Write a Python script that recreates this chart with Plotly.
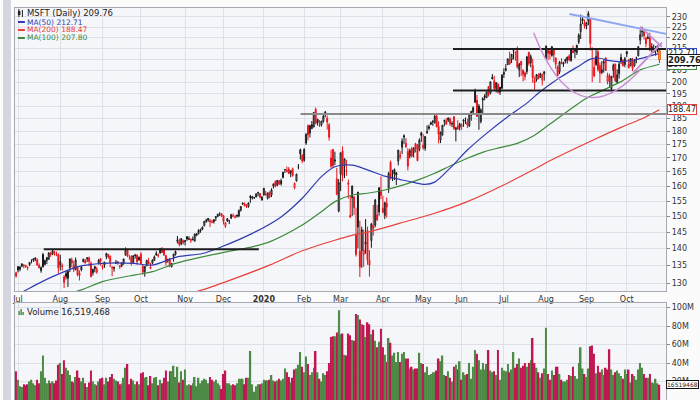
import math
import pandas as pd
import plotly.graph_objects as go

# ---------------- data ----------------
HOLIDAYS = ["2019-07-04", "2019-09-02", "2019-11-28", "2019-12-25", "2020-01-01", "2020-01-20",
            "2020-02-17", "2020-04-10", "2020-05-25", "2020-07-03", "2020-09-07"]
trade_days = [d for d in pd.bdate_range("2019-06-28", "2020-10-26")
              if d.strftime("%Y-%m-%d") not in HOLIDAYS]

month_labels = ["Jul", "Aug", "Sep", "Oct", "Nov", "Dec", "<b>2020</b>", "Feb", "Mar", "Apr",
                "May", "Jun", "Jul", "Aug", "Sep", "Oct"]

opens = [
    132.9,
    134.6, 133.9, 134.8, 134.9, 134.6, 134.3, 135.2, 136.4, 136.5, 137.2, 136.7, 135.0, 133.5, 138.2, 135.3, 136.4, 136.8, 138.6, 138.3, 139.0, 138.2, 138.2,
    135.1, 134.6, 131.7, 131.8, 131.3, 134.3, 136.6, 135.0, 133.8, 134.4, 132.8, 133.7, 136.1, 136.4, 136.9, 137.2, 135.6, 132.9, 134.6, 133.1, 135.5, 137.0,
    134.8, 135.1, 137.6, 138.2, 137.7, 134.3, 134.1, 135.6, 136.1, 134.9, 134.9, 135.7, 138.0, 139.7, 137.5, 137.6, 135.8, 138.0, 138.0, 136.6,
    138.3, 134.8, 133.2, 134.9, 136.1, 134.5, 135.6, 136.5, 138.5, 137.8, 138.6, 139.7, 139.6, 137.9, 136.4, 137.0, 134.7, 137.6, 138.2, 142.2, 142.2, 141.3, 142.4,
    142.4, 143.6, 142.8, 142.9, 142.6, 142.2, 144.0, 144.5, 145.3, 145.9, 147.0, 148.4, 149.3, 148.6, 148.1, 148.9, 149.5, 150.0, 151.0, 150.8,
    150.2, 146.8, 149.2, 148.6, 149.4, 150.1, 149.7, 150.0, 150.1, 152.0, 154.0, 154.0, 153.4, 153.2, 156.6, 156.4, 156.1, 156.3, 157.8, 157.5, 155.3,
    157.0, 157.0, 155.9, 158.0, 157.0, 160.0, 161.6, 160.3, 161.9, 160.8, 163.0, 165.8, 165.5, 166.0, 164.6, 166.1, 159.4, 161.8, 166.7, 173.0, 171.0,
    169.1, 175.5, 182.2, 179.3, 181.0, 181.7, 188.7, 184.7, 182.2, 182.4, 183.9, 187.6, 185.1, 182.5, 167.0, 173.1, 168.8, 162.5, 151.7,
    164.2, 172.5, 167.4, 165.1, 161.1, 150.3, 156.1, 156.4, 144.4, 146.6, 139.2, 139.4, 138.2, 141.3, 145.5, 136.5, 142.4, 147.1, 147.2, 150.5, 151.4, 158.2,
    152.6, 150.3, 154.3, 159.2, 168.4, 164.3, 165.8, 163.9, 168.8, 170.4, 173.9, 178.3, 175.4, 172.4, 170.7, 173.4, 171.9, 175.3, 174.9, 173.1, 179.4,
    174.8, 173.5, 179.4, 181.1, 183.3, 183.7, 183.3, 186.0, 181.9, 176.6, 178.5, 184.2, 184.1, 184.3, 184.8, 182.8, 185.7, 180.7, 182.0, 181.6,
    182.0, 183.9, 184.9, 183.5, 182.1, 186.3, 187.6, 191.6, 192.4, 190.0, 183.8, 192.4, 194.1, 193.4, 198.1, 195.3, 202.1, 200.6, 197.3, 199.2, 195.8, 197.4,
    203.4, 205.2, 207.7, 209.9, 209.7, 214.0, 213.1, 214.1, 205.4, 209.1, 205.1, 204.0, 204.6, 213.2, 208.4, 207.3, 199.7, 201.0, 203.1, 202.0, 200.8, 203.6,
    210.6, 214.0, 213.8, 211.8, 214.3, 210.6, 206.6, 204.5, 208.9, 207.9, 209.1, 209.7, 211.5, 209.5, 213.9, 214.8, 213.1, 217.9, 222.9, 228.2, 227.0,
    225.5, 227.9, 229.3, 215.1, 206.5, 207.6, 213.4, 207.2, 204.2, 208.4, 210.6, 200.1, 202.8, 197.2, 205.1, 207.9, 199.9, 203.6, 210.9, 209.4, 207.7,
    213.5, 208.0, 207.2, 208.8, 207.1, 210.5, 211.6, 218.8, 222.7, 223.0, 217.1, 220.2, 220.4, 215.8, 213.1, 213.9, 215.0, 213.9,
]
highs = [
    133.2,
    134.8, 134.7, 135.5, 135.3, 135.2, 134.6, 136.0, 136.8, 137.1, 137.3, 137.0, 135.6, 134.7, 138.7, 136.7, 137.4, 138.8, 139.0, 139.7, 139.3, 139.1, 138.6,
    138.1, 135.6, 132.2, 133.4, 133.5, 137.0, 137.3, 136.3, 137.3, 134.7, 133.6, 134.8, 137.0, 136.9, 137.4, 137.6, 136.2, 134.0, 134.9, 134.6, 136.9, 137.1,
    135.2, 136.0, 138.7, 138.4, 137.9, 134.7, 134.6, 136.6, 136.3, 135.0, 135.8, 136.9, 140.3, 139.8, 138.1, 138.0, 138.0, 138.4, 138.3, 137.6,
    138.9, 135.1, 134.8, 136.6, 137.2, 135.7, 136.7, 137.9, 139.2, 138.5, 140.1, 140.4, 139.8, 138.1, 136.9, 137.2, 135.7, 138.4, 139.4, 143.8, 143.0, 143.1, 142.7,
    142.5, 143.6, 143.7, 142.9, 143.6, 144.5, 144.6, 145.9, 146.1, 146.8, 148.4, 149.2, 149.4, 149.2, 148.9, 149.0, 150.0, 150.8, 151.1, 151.0,
    150.4, 148.1, 149.3, 148.7, 150.8, 150.9, 150.4, 150.4, 152.2, 153.2, 154.6, 154.5, 154.0, 154.4, 157.0, 156.7, 156.4, 157.5, 158.1, 157.7, 156.5,
    159.3, 158.4, 157.8, 158.2, 159.3, 160.9, 162.0, 162.0, 162.1, 162.6, 165.0, 165.9, 166.9, 166.7, 165.5, 166.5, 161.3, 164.3, 167.8, 173.4, 171.4,
    173.6, 179.3, 182.7, 182.3, 184.0, 187.5, 189.4, 184.8, 184.4, 184.0, 186.4, 188.0, 186.2, 183.2, 173.0, 173.3, 172.3, 166.4, 162.5,
    171.9, 174.3, 169.7, 169.3, 162.3, 156.7, 160.1, 156.5, 152.8, 158.0, 148.6, 146.7, 145.8, 149.1, 146.7, 139.5, 147.9, 153.7, 155.7, 153.7, 159.7, 163.4,
    156.8, 154.8, 156.2, 165.0, 169.0, 165.7, 166.2, 164.8, 172.9, 172.5, 177.3, 178.8, 177.4, 173.6, 173.4, 174.1, 173.9, 175.6, 175.1, 177.3, 179.8,
    178.9, 178.2, 182.3, 182.6, 183.8, 184.4, 186.6, 186.7, 183.9, 179.8, 182.5, 184.6, 185.1, 185.4, 185.4, 183.9, 186.0, 181.7, 184.3, 183.3,
    183.1, 184.7, 185.4, 184.9, 187.2, 187.9, 189.9, 197.2, 194.6, 190.8, 189.1, 193.6, 194.9, 196.0, 198.2, 200.3, 203.5, 202.7, 199.9, 199.4, 197.9, 203.5,
    206.0, 207.9, 210.4, 213.5, 212.4, 215.0, 213.7, 215.9, 208.4, 209.3, 205.6, 204.6, 211.6, 213.4, 212.2, 210.3, 202.4, 203.5, 203.8, 204.1, 203.7, 204.7,
    216.4, 214.3, 214.3, 216.0, 215.2, 210.9, 207.3, 209.3, 210.5, 208.9, 210.4, 211.2, 212.3, 215.0, 216.3, 215.2, 216.6, 222.1, 231.2, 230.6, 228.7,
    227.4, 232.9, 229.3, 215.4, 210.0, 214.8, 214.7, 208.6, 209.2, 209.8, 211.0, 204.1, 203.7, 202.7, 208.1, 208.1, 205.6, 209.0, 212.6, 210.1, 211.1,
    213.9, 210.2, 210.4, 210.7, 210.1, 211.2, 216.0, 223.9, 225.2, 224.2, 220.4, 222.3, 222.3, 217.4, 216.8, 216.1, 216.3, 214.2,
]
lows = [
    131.5,
    133.0, 133.3, 134.5, 134.2, 134.3, 133.6, 134.8, 135.6, 136.0, 136.2, 134.9, 134.2, 132.9, 134.4, 135.0, 135.4, 136.6, 137.5, 138.0, 137.9, 137.7, 132.7,
    133.6, 133.5, 128.6, 131.0, 128.9, 133.1, 134.5, 133.1, 133.6, 131.9, 130.7, 133.3, 135.9, 135.6, 136.0, 134.8, 131.6, 132.1, 133.0, 132.6, 135.3, 134.9,
    133.8, 134.3, 136.8, 137.0, 134.5, 131.9, 133.2, 135.4, 135.2, 134.0, 134.5, 135.2, 137.9, 137.4, 136.6, 135.0, 135.6, 137.0, 135.2, 136.4,
    135.4, 132.4, 131.8, 134.8, 135.6, 134.0, 135.3, 136.3, 137.8, 137.3, 138.5, 138.7, 137.8, 135.0, 135.8, 134.5, 134.4, 136.1, 137.9, 141.5, 140.6, 141.0, 141.2,
    140.9, 142.3, 142.6, 141.7, 142.5, 142.1, 143.7, 144.3, 144.8, 145.6, 146.8, 147.9, 148.2, 146.6, 147.8, 147.7, 148.5, 149.7, 150.1, 149.8,
    147.4, 146.3, 148.2, 147.5, 149.1, 149.8, 149.3, 149.6, 149.7, 151.5, 153.7, 153.2, 152.7, 152.8, 154.4, 155.5, 155.7, 156.3, 156.6, 155.9, 155.2,
    156.8, 156.8, 155.5, 155.9, 156.3, 159.2, 159.6, 160.0, 160.4, 160.2, 162.7, 164.6, 164.8, 164.3, 163.1, 163.3, 158.9, 161.6, 165.9, 169.4, 168.1,
    168.6, 174.8, 176.5, 177.6, 180.9, 181.5, 182.7, 182.2, 181.7, 181.8, 183.3, 185.5, 180.6, 176.4, 166.4, 166.5, 167.4, 156.9, 151.3,
    158.3, 161.7, 162.8, 163.6, 155.8, 149.4, 150.1, 150.4, 137.6, 140.0, 131.7, 134.3, 134.6, 138.4, 135.2, 131.8, 140.2, 143.9, 146.5, 148.5, 150.2, 155.6,
    151.0, 149.1, 149.6, 157.7, 162.3, 161.8, 162.1, 160.4, 167.3, 169.5, 171.4, 175.2, 173.6, 165.5, 169.8, 170.2, 170.2, 172.0, 168.8, 172.4, 176.0,
    173.0, 172.6, 179.0, 180.4, 182.4, 182.1, 183.0, 181.6, 175.4, 175.5, 178.4, 181.9, 182.4, 183.6, 182.0, 181.6, 180.5, 176.1, 180.6, 180.3,
    180.6, 181.7, 182.8, 181.2, 181.6, 184.1, 187.2, 191.2, 185.7, 180.6, 183.1, 186.7, 192.4, 193.4, 193.9, 194.8, 201.2, 196.3, 195.6, 195.2, 194.6, 197.0,
    201.8, 204.6, 207.4, 207.7, 208.4, 210.0, 209.4, 205.9, 202.2, 202.6, 200.3, 200.8, 203.4, 207.2, 206.5, 199.8, 196.8, 200.2, 201.2, 201.9, 198.6, 200.6,
    210.1, 209.6, 210.0, 211.2, 208.8, 205.8, 202.6, 203.5, 207.8, 206.6, 208.2, 208.1, 209.1, 208.9, 212.9, 210.5, 212.0, 217.0, 219.4, 226.5, 224.3,
    224.0, 226.0, 214.0, 200.0, 202.1, 207.1, 204.6, 199.7, 203.4, 204.1, 204.9, 199.0, 197.5, 196.3, 201.9, 200.0, 199.2, 201.5, 207.9, 206.7, 206.5,
    211.0, 206.0, 206.9, 204.8, 206.7, 208.3, 211.4, 216.8, 220.4, 219.1, 215.5, 219.3, 213.7, 213.2, 213.0, 211.7, 213.2, 208.3,
]
closes = [
    132.0,
    133.7, 134.6, 135.5, 135.1, 135.0, 134.5, 135.9, 136.4, 136.9, 136.9, 135.1, 134.3, 134.4, 134.6, 136.4, 137.3, 138.7, 138.2, 139.3, 139.0, 138.4, 134.3,
    136.1, 134.9, 130.2, 132.7, 133.3, 136.9, 135.7, 133.8, 136.6, 132.4, 132.1, 134.5, 136.8, 135.7, 137.2, 136.2, 131.8, 133.9, 134.1, 134.0, 136.5, 136.3,
    134.4, 136.0, 138.5, 137.5, 135.9, 134.5, 134.5, 135.9, 135.7, 134.7, 135.8, 136.9, 139.5, 137.8, 137.5, 135.8, 137.8, 137.9, 136.1, 137.4,
    135.5, 133.1, 134.7, 136.5, 135.5, 134.1, 136.6, 137.5, 138.1, 138.0, 140.0, 138.8, 138.1, 135.8, 136.8, 134.8, 135.6, 138.3, 139.1, 142.6, 141.2, 143.0, 141.8,
    142.1, 142.9, 142.9, 142.5, 142.7, 144.4, 144.5, 145.5, 145.7, 146.5, 148.4, 148.7, 148.8, 148.3, 148.2, 148.3, 149.9, 150.7, 151.0, 150.1,
    148.3, 148.0, 148.6, 148.6, 150.5, 150.1, 149.8, 150.4, 151.9, 153.2, 154.2, 153.4, 153.1, 154.4, 156.1, 156.1, 156.1, 157.4, 157.7, 156.3, 156.4,
    159.3, 157.3, 157.7, 156.3, 158.8, 160.8, 160.0, 162.0, 160.8, 161.9, 164.9, 165.8, 165.2, 164.4, 165.4, 163.7, 161.0, 164.2, 166.7, 171.5, 168.9,
    173.1, 178.8, 178.6, 182.3, 182.6, 187.4, 183.1, 183.4, 182.4, 184.0, 185.9, 186.4, 183.6, 177.7, 170.0, 167.2, 169.3, 157.3, 161.2,
    171.9, 163.7, 169.7, 165.4, 160.7, 149.8, 160.1, 152.8, 138.2, 158.0, 134.6, 145.7, 139.6, 141.9, 136.5, 135.1, 147.5, 146.1, 155.3, 148.9, 159.4, 156.9,
    151.3, 154.4, 153.0, 164.4, 162.6, 164.3, 164.3, 164.7, 172.9, 171.0, 176.2, 177.8, 174.2, 167.0, 172.7, 170.6, 173.7, 173.2, 169.0, 176.6, 178.4,
    173.7, 178.0, 179.9, 181.7, 182.8, 183.8, 185.9, 181.7, 178.9, 179.7, 182.3, 184.1, 182.8, 185.2, 182.9, 183.0, 181.1, 181.3, 180.9, 182.8,
    182.3, 184.4, 184.9, 182.4, 186.7, 187.9, 189.3, 196.3, 185.8, 187.2, 188.4, 193.1, 193.7, 195.8, 194.6, 200.1, 201.4, 197.3, 199.8, 195.8, 197.9, 203.0,
    204.2, 205.8, 210.2, 207.8, 212.3, 213.8, 213.2, 206.6, 207.9, 207.5, 203.4, 202.4, 211.1, 208.2, 211.2, 202.0, 200.8, 203.3, 201.5, 203.6, 203.4, 204.5,
    216.0, 212.8, 212.4, 215.8, 212.0, 207.8, 202.9, 208.7, 208.2, 208.4, 209.8, 211.0, 209.7, 214.6, 213.0, 213.7, 216.5, 221.2, 226.6, 228.9, 225.5,
    227.3, 231.7, 217.3, 214.3, 202.7, 211.3, 205.4, 204.0, 205.4, 208.8, 205.1, 202.9, 200.4, 202.5, 207.4, 200.6, 203.2, 207.8, 209.4, 207.3, 210.3,
    212.5, 206.2, 210.4, 205.9, 209.8, 210.6, 215.8, 221.4, 222.9, 220.9, 219.7, 219.7, 214.2, 214.7, 214.8, 214.9, 216.2, 209.76,
]
volume_m = [
    31,
    22, 15, 14, 17, 16, 17, 20, 22, 18, 16, 22, 18, 31, 48, 24, 18, 21, 18, 20, 18, 21, 38,
    40, 28, 43, 35, 32, 27, 20, 19, 25, 32, 24, 20, 24, 18, 14, 19, 32, 20, 17, 16, 20, 23,
    24, 17, 24, 20, 25, 28, 23, 21, 20, 17, 18, 24, 35, 39, 17, 23, 21, 17, 20, 17,
    29, 30, 24, 25, 16, 26, 18, 24, 25, 16, 22, 18, 24, 32, 20, 31, 31, 37, 25, 36, 19, 31, 22,
    33, 16, 17, 16, 18, 25, 15, 24, 18, 21, 23, 22, 18, 25, 22, 20, 22, 18, 16, 12,
    28, 32, 18, 18, 16, 17, 16, 18, 23, 23, 23, 17, 24, 24, 53, 17, 9, 15, 17, 17, 18,
    22, 21, 21, 22, 27, 21, 20, 21, 23, 21, 23, 34, 30, 25, 19, 24, 33, 34, 38, 52, 36,
    30, 47, 39, 27, 30, 35, 53, 30, 23, 20, 29, 27, 31, 40, 68, 69, 69, 73, 97,
    71, 72, 49, 48, 72, 70, 65, 64, 93, 92, 87, 82, 81, 68, 84, 82, 71, 76, 64, 57, 63, 77,
    57, 49, 41, 67, 62, 48, 51, 41, 52, 41, 50, 52, 45, 45, 34, 36, 33, 34, 34, 51, 40,
    39, 30, 36, 27, 28, 30, 30, 32, 45, 42, 48, 27, 26, 31, 24, 20, 36, 38, 33, 42,
    22, 30, 27, 28, 40, 23, 36, 54, 50, 43, 33, 40, 33, 39, 54, 32, 30, 31, 27, 54, 22, 35,
    32, 31, 39, 30, 33, 52, 35, 39, 45, 35, 37, 40, 36, 40, 43, 67, 40, 35, 30, 24, 29, 34,
    78, 28, 22, 32, 27, 36, 36, 28, 22, 20, 20, 22, 27, 26, 36, 26, 23, 40, 57, 34, 28,
    25, 34, 58, 59, 50, 29, 37, 30, 33, 27, 35, 33, 55, 33, 27, 30, 32, 29, 26, 23, 33,
    28, 33, 19, 28, 26, 22, 33, 40, 35, 28, 24, 24, 28, 19, 18, 23, 18, 16.519468,
]

# moving averages (trading-day position, value)
ma50_pos = [0, 6, 19, 32, 45, 61, 71, 84, 97, 107, 123, 138, 149, 159, 166, 175, 183, 192, 200, 207, 213, 218,
            226, 235, 245, 256, 266, 273, 278, 284, 294, 299, 304, 309, 315, 322, 330, 335]
ma50_val = [126.5, 128.3, 131.8, 134.6, 135.6, 135.6, 135.1, 137.5, 138.5, 140.5, 144.6, 149.8, 155.9, 163.3, 166.8,
            167.4, 165.7, 163.5, 162.3, 161.3, 160.6, 161.4, 166.3, 172.9, 179.2, 185.7, 191.2, 196.0, 199.0,
            202.4, 207.5, 210.1, 210.5, 209.4, 209.0, 209.7, 211.5, 212.71]
ma100_pos = [20, 34, 45, 62, 71, 83, 97, 114, 123, 132, 149, 159, 166, 175, 183, 192, 200, 209, 218, 226, 235,
             244, 252, 261, 270, 278, 287, 297, 306, 315, 325, 335]
ma100_val = [126.0, 128.1, 130.4, 132.3, 133.2, 135.6, 137.5, 139.5, 140.5, 142.0, 147.2, 151.5, 154.8, 157.0,
             157.6, 158.7, 160.1, 162.1, 164.5, 167.1, 169.9, 172.3, 173.8, 175.4, 178.5, 182.8, 187.8, 193.2,
             196.7, 200.2, 205.3, 207.80]
ma200_pos = [88, 97, 114, 132, 149, 166, 175, 184, 200, 218, 235, 252, 270, 278, 300, 315, 327, 335]
ma200_val = [126.8, 128.1, 131.3, 135.1, 139.3, 142.5, 144.0, 145.1, 147.8, 151.0, 154.8, 159.8, 166.0, 169.0,
             176.5, 181.5, 185.3, 188.47]

price_ticks = [130, 135, 140, 145, 150, 155, 160, 165, 170, 175, 180, 185, 190, 195, 200, 205, 210, 215,
               220, 225, 230]
price_tick_text = ["" if t == 210 else str(t) for t in price_ticks]  # 210 sits under the close tag
volume_ticks = [20e6, 40e6, 60e6, 80e6, 100e6]
volume_tick_text = ["20M", "40M", "60M", "80M", "100M"]

# user-drawn lines: (pos0, price0, pos1, price1, colour)
drawn_lines = [
    (14.4, 139.8, 126.4, 139.8, "#1e1e1e"),
    (148.1, 186.8, 338.5, 186.8, "#8a8a8a"),
    (227.5, 214.7, 338.5, 214.7, "#1e1e1e"),
    (227.5, 196.4, 338.5, 196.4, "#1e1e1e"),
    (288.1, 231.5, 338.4, 221.8, "#8ea6f0"),
    (324.9, 225.2, 336.3, 215.7, "#c98fd2"),
    (321.3, 204.0, 336.3, 217.6, "#c98fd2"),
]
cup_arc = [(269.5, 222.3), (291.2, 176.7), (324.9, 205.3)]

# ---------------- build ----------------
n = len(trade_days)
assert all(len(a) == n for a in (opens, highs, lows, closes, volume_m)), n
pos = list(range(n))
up = [closes[0] >= opens[0]] + [closes[i] >= closes[i - 1] for i in range(1, n)]
month_pos = [i for i in range(1, n) if trade_days[i].month != trade_days[i - 1].month]

BG = "#f5f6fa"
GRID = "#dde0e7"
FRAME = "#a6aab3"
BLACK = "#151515"
RED = "#e8161c"

fig = go.Figure()


def candle_trace(idx, color):
    return go.Candlestick(
        x=[pos[i] for i in idx], open=[opens[i] for i in idx], high=[highs[i] for i in idx],
        low=[lows[i] for i in idx], close=[closes[i] for i in idx],
        increasing=dict(line=dict(color=color, width=1), fillcolor=BG),
        decreasing=dict(line=dict(color=color, width=1), fillcolor=color),
        whiskerwidth=0, xaxis="x", yaxis="y", hoverinfo="skip", showlegend=False)


fig.add_trace(go.Scatter(x=ma200_pos, y=ma200_val, mode="lines", xaxis="x", yaxis="y",
                         line=dict(color="#e8403a", width=1.2, shape="spline", smoothing=0.8)))
fig.add_trace(go.Scatter(x=ma100_pos, y=ma100_val, mode="lines", xaxis="x", yaxis="y",
                         line=dict(color="#3e8a3a", width=1.2, shape="spline", smoothing=0.8)))
fig.add_trace(go.Scatter(x=ma50_pos, y=ma50_val, mode="lines", xaxis="x", yaxis="y",
                         line=dict(color="#2f3bb0", width=1.2, shape="spline", smoothing=0.8)))
fig.add_trace(candle_trace([i for i in pos if up[i]], BLACK))
fig.add_trace(candle_trace([i for i in pos if not up[i]], RED))

fig.add_trace(go.Bar(x=pos, y=[v * 1e6 for v in volume_m], xaxis="x2", yaxis="y2", width=0.8,
                     marker=dict(color=["#4d8a45" if u else "#c01752" for u in up], line=dict(width=0)),
                     hoverinfo="skip", showlegend=False))

shapes = []
for x0, y0, x1, y1, c in drawn_lines:
    shapes.append(dict(type="line", xref="x", yref="y", x0=x0, y0=y0, x1=x1, y1=y1,
                       line=dict(color=c, width=2)))
(ax0, ay0), (ax1, ay1), (ax2, ay2) = cup_arc
shapes.append(dict(type="path", xref="x", yref="y",
                   path=f"M {ax0},{ay0} Q {ax1},{ay1} {ax2},{ay2}",
                   line=dict(color="#c98fd2", width=1.5)))
# highlight of latest candle
shapes.append(dict(type="rect", xref="x", yref="y", x0=pos[-1] - 0.45, x1=pos[-1] + 0.45,
                   y0=closes[-1], y1=opens[-1], fillcolor="#f7a21b", line=dict(color="#e2661a", width=1)))

# left grey strip
shapes.append(dict(type="rect", xref="paper", yref="paper", x0=0, x1=8 / 700, y0=0, y1=1,
                   fillcolor="#d3d6dd", line=dict(width=0), layer="below"))


def px(x):
    return x / 700


def py(y):
    return 1 - y / 400


# header icons
shapes.append(dict(type="line", xref="paper", yref="paper", x0=px(16), x1=px(16), y0=py(9), y1=py(17),
                   line=dict(color="#222", width=1)))
shapes.append(dict(type="rect", xref="paper", yref="paper", x0=px(15), x1=px(17.5), y0=py(11), y1=py(15),
                   fillcolor="#222", line=dict(width=0)))
shapes.append(dict(type="line", xref="paper", yref="paper", x0=px(19.5), x1=px(19.5), y0=py(10), y1=py(17),
                   line=dict(color="#222", width=1)))
for yy, c in ((22, "#2f3bb0"), (30, "#e8403a"), (38, "#3e8a3a")):
    shapes.append(dict(type="line", xref="paper", yref="paper", x0=px(15), x1=px(22), y0=py(yy), y1=py(yy),
                       line=dict(color=c, width=2)))
for xx, h in ((15.5, 4), (17.5, 6), (19.5, 3)):
    shapes.append(dict(type="rect", xref="paper", yref="paper", x0=px(xx), x1=px(xx + 1.4), y0=py(315),
                       y1=py(315 - h), fillcolor="#3e8a3a", line=dict(width=0)))

ann = []


def label(x, y, text, color, size=8, **kw):
    ann.append(dict(xref="paper", yref="paper", x=px(x), y=py(y), text=text, showarrow=False,
                    xanchor="left", yanchor="middle", font=dict(size=size, color=color,
                                                               family="DejaVu Sans"), **kw))


label(22, 13, f"MSFT (Daily) {closes[-1]:.2f}", "#222", size=8.5)
label(22, 22, f"MA(50) {ma50_val[-1]:.2f}", "#2f3bb0", size=7.5)
label(22, 30, f"MA(200) {ma200_val[-1]:.2f}", "#e8403a", size=7.5)
label(22, 38, f"MA(100) {ma100_val[-1]:.2f}", "#3e8a3a", size=7.5)
label(22, 312, f"Volume {round(volume_m[-1] * 1e6):,}", "#222", size=8.5)

# price tags on the right axis
for val, border, bold in ((ma100_val[-1], "#3e8a3a", False), (ma200_val[-1], "#e8403a", False),
                          (ma50_val[-1], "#3b48c8", False), (closes[-1], "#111", True)):
    txt = f"{val:.2f}"
    ann.append(dict(xref="paper", yref="y", x=px(667), y=math.log10(val), showarrow=False,
                    text=f"<b>{txt}</b>" if bold else txt, xanchor="left", yanchor="middle",
                    bgcolor="#ffffff", bordercolor=border, borderwidth=1, borderpad=0,
                    font=dict(size=8.5 if bold else 8, color="#222", family="DejaVu Sans")))
ann.append(dict(xref="paper", yref="y2", x=px(666), y=volume_m[-1] * 1e6, showarrow=False,
                text=f"{round(volume_m[-1] * 1e6)}", xanchor="left", yanchor="middle",
                bgcolor="#ffffff", bordercolor="#111", borderwidth=1, borderpad=0,
                font=dict(size=6, color="#222", family="DejaVu Sans")))

x_dom = [12 / 700, 666 / 700]
x_rng = [-0.6, 338.5]
axis_common = dict(showgrid=True, gridcolor=GRID, gridwidth=1, zeroline=False, showline=True,
                   mirror=True, linecolor=FRAME, linewidth=1)

fig.update_layout(
    width=700, height=400, autosize=False,
    margin=dict(l=0, r=0, t=0, b=0),
    paper_bgcolor="#fbfbfc", plot_bgcolor=BG,
    showlegend=False, bargap=0.15,
    font=dict(family="DejaVu Sans", size=8, color="#333"),
    xaxis=dict(domain=x_dom, range=x_rng, anchor="y", tickmode="array", tickvals=month_pos,
               ticktext=month_labels, ticks="", tickfont=dict(size=8, color="#333"),
               rangeslider=dict(visible=False), **axis_common),
    yaxis=dict(domain=[py(291), py(7.5)], type="log",
               range=[math.log10(127.8), math.log10(234.7)], side="right", anchor="x",
               tickmode="array", tickvals=price_ticks, ticktext=price_tick_text,
               ticks="outside", ticklen=3, tickcolor="#888", tickfont=dict(size=8, color="#333"),
               **axis_common),
    xaxis2=dict(domain=x_dom, range=x_rng, anchor="y2", matches="x", tickmode="array",
                tickvals=month_pos, showticklabels=False, ticks="",
                rangeslider=dict(visible=False), **axis_common),
    yaxis2=dict(domain=[0, py(303)], range=[0, 104.9e6], side="right", anchor="x2",
                tickmode="array", tickvals=volume_ticks, ticktext=volume_tick_text,
                ticks="outside", ticklen=3, tickcolor="#888", tickfont=dict(size=8, color="#333"),
                **axis_common),
    shapes=shapes,
    annotations=ann,
)

fig.write_html("out.html", config={"displayModeBar": False})
